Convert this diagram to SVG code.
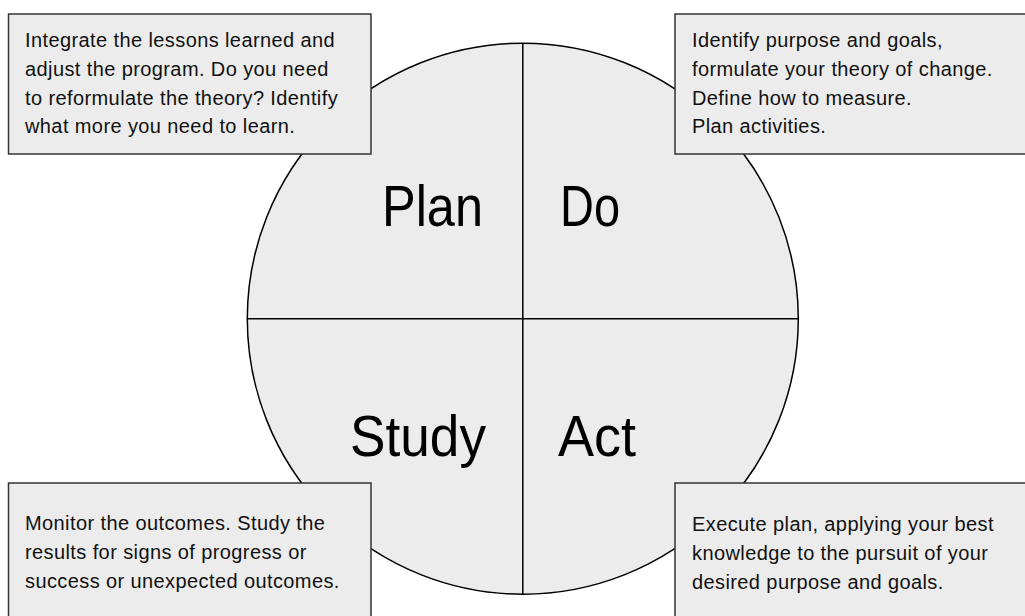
<svg xmlns="http://www.w3.org/2000/svg" width="1025" height="616" viewBox="0 0 1025 616">
<style>
.box{fill:#ececec;stroke:#333;stroke-width:1.5}
.t{font-family:"Liberation Sans",Arial,sans-serif;font-size:20px;letter-spacing:0.4px;fill:#111}
.big{font-family:"Liberation Sans",Arial,sans-serif;font-size:57px;fill:#000}
.ln{stroke:#000;stroke-width:1.5;fill:none}
</style>
<rect width="1025" height="616" fill="#fff"/>
<g id="cycle">
<circle cx="522.8" cy="318.7" r="275.5" fill="#ececec" stroke="#000" stroke-width="1.5"/>
</g>
<g id="connectors">
<line class="ln" x1="522.8" y1="43.2" x2="522.8" y2="594.2"/>
<line class="ln" x1="247.3" y1="318.7" x2="798.3" y2="318.7"/>
</g>
<g id="plan"><text class="big" x="382" y="226" textLength="101" lengthAdjust="spacingAndGlyphs">Plan</text></g>
<g id="do"><text class="big" x="560" y="226" textLength="60" lengthAdjust="spacingAndGlyphs">Do</text></g>
<g id="study"><text class="big" x="350" y="456" textLength="136" lengthAdjust="spacingAndGlyphs">Study</text></g>
<g id="act"><text class="big" x="558" y="456" textLength="78" lengthAdjust="spacingAndGlyphs">Act</text></g>
<g id="box-plan">
<rect class="box" x="8.5" y="14" width="362.5" height="140"/>
<text class="t" x="25" y="47">Integrate the lessons learned and</text>
<text class="t" x="25" y="76">adjust the program. Do you need</text>
<text class="t" x="25" y="105">to reformulate the theory? Identify</text>
<text class="t" x="25" y="133">what more you need to learn.</text>
</g>
<g id="box-do">
<rect class="box" x="675" y="14" width="360" height="140"/>
<text class="t" x="692" y="47">Identify purpose and goals,</text>
<text class="t" x="692" y="76">formulate your theory of change.</text>
<text class="t" x="692" y="105">Define how to measure.</text>
<text class="t" x="692" y="133">Plan activities.</text>
</g>
<g id="box-study">
<rect class="box" x="8.5" y="483" width="362.5" height="140"/>
<text class="t" x="25" y="530">Monitor the outcomes. Study the</text>
<text class="t" x="25" y="559">results for signs of progress or</text>
<text class="t" x="25" y="588">success or unexpected outcomes.</text>
</g>
<g id="box-act">
<rect class="box" x="675" y="483" width="360" height="140"/>
<text class="t" x="692" y="531">Execute plan, applying your best</text>
<text class="t" x="692" y="560">knowledge to the pursuit of your</text>
<text class="t" x="692" y="589">desired purpose and goals.</text>
</g>
</svg>
